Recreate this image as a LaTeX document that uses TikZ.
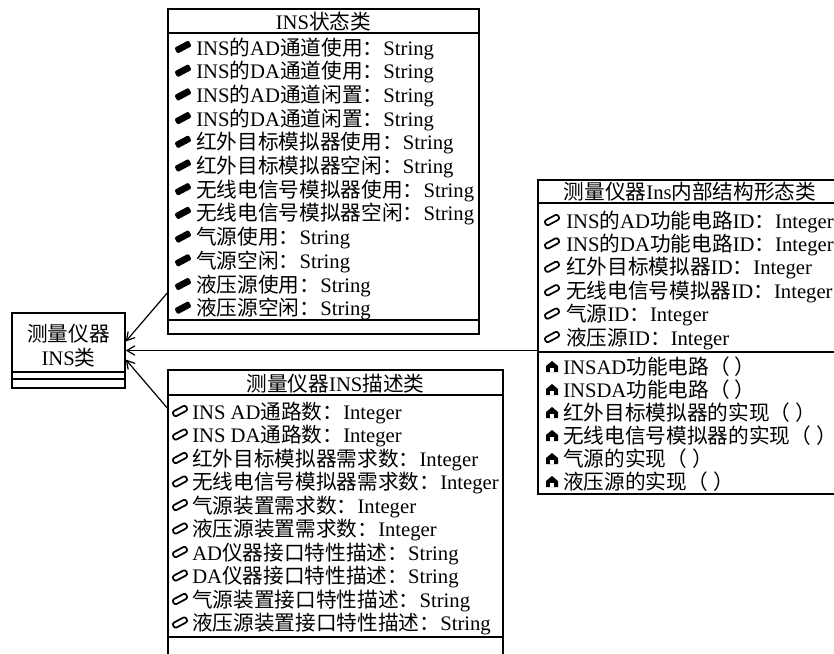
\documentclass[tikz,border=0pt]{standalone}
\usepackage{fontspec}
\setmainfont{Liberation Serif}
\newfontfamily\cjkf{Noto Sans CJK SC}
\newfontfamily\latf{Liberation Serif}
\usetikzlibrary{arrows.meta,fit,calc}
\XeTeXinterchartokenstate=1
\newXeTeXintercharclass\cjkclass
\newcount\cjkcnt
\cjkcnt="4E00
\loop
  \XeTeXcharclass\cjkcnt=\cjkclass
  \advance\cjkcnt by 1
\ifnum\cjkcnt<"A000 \repeat
\XeTeXcharclass"FF08=\cjkclass
\XeTeXcharclass"FF09=\cjkclass
\XeTeXcharclass"FF1A=\cjkclass
\XeTeXinterchartoks 0 \cjkclass = {\cjkf}
\XeTeXinterchartoks 4095 \cjkclass = {\cjkf}
\XeTeXinterchartoks \cjkclass 0 = {\latf}
\XeTeXinterchartoks \cjkclass 4095 = {\latf}
\begin{document}
\begin{tikzpicture}[x=0.75pt,y=-0.75pt,
  ubox/.style={draw, line width=1.1pt, inner sep=0pt, rectangle},
  rowtxt/.style={anchor=base west, inner sep=0pt, font=\fontsize{15.5}{18}\selectfont},
  headtxt/.style={anchor=base, inner sep=0pt, font=\fontsize{15.5}{18}\selectfont},
  sepline/.style={line width=1.1pt},
  arr/.style={line width=0.9pt, -{Straight Barb[length=6pt,width=7pt]}},
  privicon/.pic={\fill[rotate=28, rounded corners=1pt] (-8,-3.3) rectangle (8,3.3);},
  pubicon/.pic={\draw[line width=1.3pt, rotate=28, rounded corners=1.8pt] (-7.5,-2.8) rectangle (7.5,2.8);},
  methicon/.pic={\fill (-6,5) -- (-6,-1) -- (0,-6) -- (6,-1) -- (6,5) -- cycle;
                 \fill[white] (-1.8,0.5) rectangle (1.8,5);},
]
\useasboundingbox (0,0) rectangle (834,653);
\clip (0,0) rectangle (834,653);

% top class
\node[ubox, fit={(168,9)(479,334)}] (T) {};
\draw[sepline] (T.west |- 0,33) -- (T.east |- 0,33);
\draw[sepline] (T.west |- 0,320) -- (T.east |- 0,320);
\node[headtxt] (Th) at (323.5,29) {INS状态类};
\foreach \rowtext [count=\i] in {INS的AD通道使用：String, INS的DA通道使用：String,
  INS的AD通道闲置：String, INS的DA通道闲置：String, 红外目标模拟器使用：String,
  红外目标模拟器空闲：String, 无线电信号模拟器使用：String, 无线电信号模拟器空闲：String,
  气源使用：String, 气源空闲：String, 液压源使用：String, 液压源空闲：String} {
  \pic at (183,{47+23.7*(\i-1)}) {privicon};
  \node[rowtxt] (t\i) at (196,{55+23.7*(\i-1)}) {\rowtext};
}

% left class
\node[ubox, fit={(12,313)(125,388)}] (L) {};
\draw[sepline] (L.west |- 0,372) -- (L.east |- 0,372);
\draw[sepline] (L.west |- 0,379) -- (L.east |- 0,379);
\node[headtxt] (L1) at (68.5,341) {测量仪器};
\node[headtxt] (L2) at (68.5,365) {INS类};

% right class
\node[ubox, fit={(538,180)(845,494)}] (R) {};
\draw[sepline] (R.west |- 0,203) -- (R.east |- 0,203);
\draw[sepline] (R.west |- 0,352) -- (R.east |- 0,352);
\node[headtxt] (Rh) at (690,199) {测量仪器Ins内部结构形态类};
\foreach \rowtext [count=\i] in {INS的AD功能电路ID：Integer, INS的DA功能电路ID：Integer,
  红外目标模拟器ID：Integer, 无线电信号模拟器ID：Integer, 气源ID：Integer, 液压源ID：Integer} {
  \pic at (552,{220+23.4*(\i-1)}) {pubicon};
  \node[rowtxt] (r\i) at (566,{228+23.4*(\i-1)}) {\rowtext};
}
\foreach \rowtext [count=\i] in {INSAD功能电路（ ）, INSDA功能电路（ ）, 红外目标模拟器的实现（ ）,
  无线电信号模拟器的实现（ ）, 气源的实现（ ）, 液压源的实现（ ）} {
  \pic at (552,{367+23*(\i-1)}) {methicon};
  \node[rowtxt] (m\i) at (563,{374+23*(\i-1)}) {\rowtext\kern-7pt};
}

% bottom class
\node[ubox, fit={(168,370)(503,700)}] (B) {};
\draw[sepline] (B.west |- 0,395) -- (B.east |- 0,395);
\draw[sepline] (B.west |- 0,637) -- (B.east |- 0,637);
\node[headtxt] (Bh) at (335.5,391) {测量仪器INS描述类};
\foreach \rowtext [count=\i] in {INS AD通路数：Integer, INS DA通路数：Integer,
  红外目标模拟器需求数：Integer, 无线电信号模拟器需求数：Integer, 气源装置需求数：Integer,
  液压源装置需求数：Integer, AD仪器接口特性描述：String, DA仪器接口特性描述：String,
  气源装置接口特性描述：String, 液压源装置接口特性描述：String} {
  \pic at (180,{411+23.5*(\i-1)}) {pubicon};
  \node[rowtxt] (b\i) at (192,{419+23.5*(\i-1)}) {\rowtext};
}

% connectors
\draw[arr] (T.west |- 0,293) -- ($(L.east)+(0,-9)$);
\draw[arr] (R.west |- L.east) -- (L.east);
\draw[arr] (B.west |- 0,408) -- ($(L.east)+(0,9)$);
\end{tikzpicture}
\end{document}
